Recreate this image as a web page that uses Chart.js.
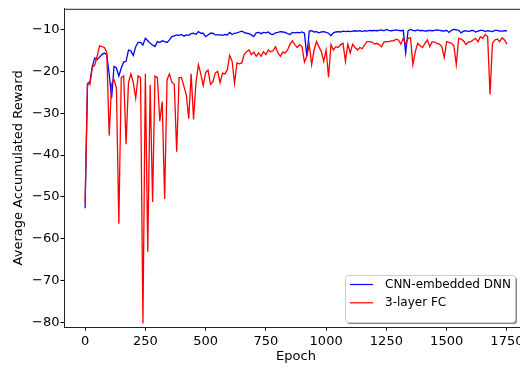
<!DOCTYPE html>
<html>
<head>
<meta charset="utf-8">
<script src="https://cdn.jsdelivr.net/npm/chart.js@4/dist/chart.umd.min.js"></script>
<style>
  html, body { margin: 0; padding: 0; background: #fff; overflow: hidden; }
  #wrap { width: 530px; height: 371px; }
</style>
</head>
<body>
<div id="wrap"><canvas id="chart" width="530" height="371"></canvas></div>
<script>
/* ── data ────────────────────────────────────────────────── */

const epochs = Array.from({ length: 176 }, (_, i) => i * 10);

const cnnReward = [
  -52.7, -22.9, -22.5, -18.8, -16.8, -17.2, -16.6, -16.0, -15.6, -16.0,
  -20.7, -26.4, -18.8, -19.2, -21.1, -19.2, -17.8, -17.6, -14.9, -15.1,
  -16.2, -14.1, -13.1, -13.1, -13.7, -12.1, -12.7, -13.3, -13.7, -14.1,
  -12.9, -13.1, -12.7, -12.9, -13.1, -12.5, -11.7, -11.5, -11.3, -11.4,
  -11.2, -11.6, -11.3, -11.4, -11.0, -10.9, -11.2, -10.5, -10.9, -10.9,
  -11.7, -11.3, -10.9, -10.9, -11.3, -11.3, -11.3, -11.4, -11.2, -11.3,
  -10.7, -11.2, -10.9, -10.8, -10.6, -10.4, -10.7, -10.9, -11.0, -11.3,
  -11.7, -10.8, -10.7, -11.0, -10.7, -10.8, -10.6, -11.1, -11.2, -10.8,
  -10.7, -10.5, -10.6, -10.7, -11.0, -11.2, -10.7, -10.8, -10.7, -10.8,
  -10.6, -10.9, -16.4, -10.4, -10.3, -10.6, -10.5, -10.8, -10.6, -10.5,
  -10.7, -10.9, -11.5, -10.8, -10.6, -10.5, -10.6, -10.4, -10.5, -10.4,
  -10.5, -10.4, -10.3, -10.4, -10.3, -10.5, -10.3, -10.4, -10.2, -10.3,
  -10.2, -10.3, -10.2, -10.1, -10.3, -10.0, -10.2, -10.3, -10.2, -10.1,
  -10.2, -10.3, -10.2, -15.6, -10.3, -10.0, -10.2, -10.3, -10.1, -10.3,
  -10.2, -10.4, -10.3, -10.2, -10.3, -10.2, -10.1, -10.2, -10.3, -10.4,
  -10.2, -10.7, -10.2, -10.0, -10.1, -10.2, -10.8, -10.4, -10.3, -10.5,
  -10.3, -10.2, -10.6, -10.4, -10.2, -10.2, -10.5, -10.3, -10.4, -10.5,
  -10.2, -10.2, -10.4, -10.4, -10.3, -10.3
];

const fcReward = [
  -51.2, -22.9, -23.2, -19.0, -18.5, -16.4, -13.9, -14.1, -14.3, -15.5,
  -35.3, -23.0, -22.0, -24.0, -56.4, -21.5, -21.1, -37.4, -22.7, -20.6,
  -22.7, -26.4, -21.1, -21.5, -80.2, -20.6, -63.1, -23.2, -51.2, -21.1,
  -21.5, -31.9, -27.2, -50.5, -22.0, -20.6, -22.6, -23.1, -39.2, -21.5,
  -21.5, -23.6, -25.6, -31.3, -20.6, -31.5, -22.7, -18.4, -20.6, -23.4,
  -20.3, -19.7, -23.1, -22.5, -20.4, -20.0, -22.7, -20.4, -20.6, -19.6,
  -16.2, -17.6, -22.9, -18.0, -18.2, -18.0, -16.0, -15.3, -14.9, -16.0,
  -15.4, -16.4, -15.6, -16.4, -15.3, -16.0, -14.9, -15.3, -15.1, -14.1,
  -15.6, -16.4, -15.4, -15.6, -14.9, -13.5, -12.7, -13.6, -14.3, -13.6,
  -14.1, -17.8, -16.4, -13.6, -18.4, -14.9, -12.9, -14.1, -15.3, -17.6,
  -14.9, -21.4, -13.6, -14.9, -14.1, -14.3, -13.6, -13.3, -17.6, -13.5,
  -15.6, -13.5, -14.3, -14.9, -14.3, -14.6, -13.6, -12.9, -12.9, -13.0,
  -13.5, -13.3, -13.6, -14.1, -13.0, -12.9, -12.9, -12.7, -12.7, -12.3,
  -12.5, -13.5, -12.1, -13.6, -12.1, -12.0, -18.4, -15.3, -13.3, -13.9,
  -14.3, -13.3, -12.5, -14.1, -12.9, -13.0, -13.3, -13.5, -14.1, -16.7,
  -12.9, -13.1, -13.3, -13.9, -18.4, -12.1, -12.3, -12.7, -13.6, -13.0,
  -12.9, -12.5, -12.1, -12.9, -11.7, -12.1, -11.2, -11.7, -25.5, -13.3,
  -12.5, -12.3, -12.9, -12.0, -12.5, -13.5
];

const seriesLabels = ["CNN-embedded DNN", "3-layer FC"];
const xTicks = [0, 250, 500, 750, 1000, 1250, 1500, 1750];
const yTicks = [-80, -70, -60, -50, -40, -30, -20, -10];

/* ── style ───────────────────────────────────────────────── */

const FONT = "'DejaVu Sans', sans-serif";
const SPINE = "#222";

const fmt = v => (v < 0 ? "\u2212" + Math.abs(v) : String(v));

// top spine + legend box with shadow, drawn inside the plot area
const frameAndLegend = {
  id: "frameAndLegend",
  afterDraw(chart) {
    const { ctx, chartArea: a } = chart;
    ctx.save();
    ctx.strokeStyle = SPINE;
    ctx.lineWidth = 1;
    ctx.beginPath();
    ctx.moveTo(a.left, a.top + 0.5);
    ctx.lineTo(a.right, a.top + 0.5);
    ctx.stroke();

    const w = 170, h = 47;
    const x = a.right - 13 - w, y = a.bottom - 5 - h;

    ctx.fillStyle = "rgba(80,80,80,0.7)";
    ctx.beginPath();
    ctx.roundRect(x + 2, y + 2, w, h, 3);
    ctx.fill();

    ctx.fillStyle = "#fff";
    ctx.strokeStyle = "#ccc";
    ctx.beginPath();
    ctx.roundRect(x + 0.5, y + 0.5, w, h, 3);
    ctx.fill();
    ctx.stroke();

    ctx.font = `12px ${FONT}`;
    ctx.textBaseline = "middle";
    chart.data.datasets.forEach((ds, i) => {
      const ly = y + 9.5 + i * 18.3;
      ctx.strokeStyle = ds.borderColor;
      ctx.lineWidth = 1.2;
      ctx.beginPath();
      ctx.moveTo(x + 5, ly);
      ctx.lineTo(x + 28, ly);
      ctx.stroke();
      ctx.fillStyle = "#000";
      ctx.fillText(ds.label, x + 40, ly);
    });
    ctx.restore();
  },
};

/* ── chart ───────────────────────────────────────────────── */

new Chart(document.getElementById("chart"), {
  type: "line",
  data: {
    datasets: [
      {
        label: seriesLabels[0],
        data: epochs.map((e, i) => ({ x: e, y: cnnReward[i] })),
        borderColor: "#0000ff",
        borderWidth: 1.3,
        pointRadius: 0,
        tension: 0,
        order: 1,
      },
      {
        label: seriesLabels[1],
        data: epochs.map((e, i) => ({ x: e, y: fcReward[i] })),
        borderColor: "#ff0000",
        borderWidth: 1.3,
        pointRadius: 0,
        tension: 0,
        order: 0,
      },
    ],
  },
  options: {
    responsive: false,
    animation: false,
    layout: { padding: { top: 4, right: 2, left: 0, bottom: 0 } },
    plugins: { legend: { display: false }, tooltip: { enabled: false } },
    scales: {
      x: {
        type: "linear",
        min: -87.5,
        max: 1837.5,
        afterBuildTicks: s => { s.ticks = xTicks.map(v => ({ value: v })); },
        afterFit: s => { s.height = 44; },
        grid: { drawOnChartArea: false, drawTicks: true, tickLength: 3.5, tickColor: "#000" },
        border: { color: SPINE, width: 1 },
        ticks: { font: { family: FONT, size: 13 }, color: "#000", padding: 3, maxRotation: 0, autoSkip: false, callback: fmt },
        title: { display: true, text: "Epoch", font: { family: FONT, size: 13 }, color: "#000", padding: { top: 0, bottom: 7 } },
      },
      y: {
        min: -81.06,
        max: -5.06,
        afterBuildTicks: s => { s.ticks = yTicks.map(v => ({ value: v })); },
        afterFit: s => { s.width = 64; },
        grid: { drawOnChartArea: false, drawTicks: true, tickLength: 3.5, tickColor: "#000" },
        border: { color: SPINE, width: 1 },
        ticks: { font: { family: FONT, size: 13 }, color: "#000", padding: 1, callback: fmt },
        title: { display: true, text: "Average Accumulated Reward", font: { family: FONT, size: 13 }, color: "#000", padding: { top: 11, bottom: 0 } },
      },
    },
  },
  plugins: [frameAndLegend],
});
</script>
</body>
</html>
